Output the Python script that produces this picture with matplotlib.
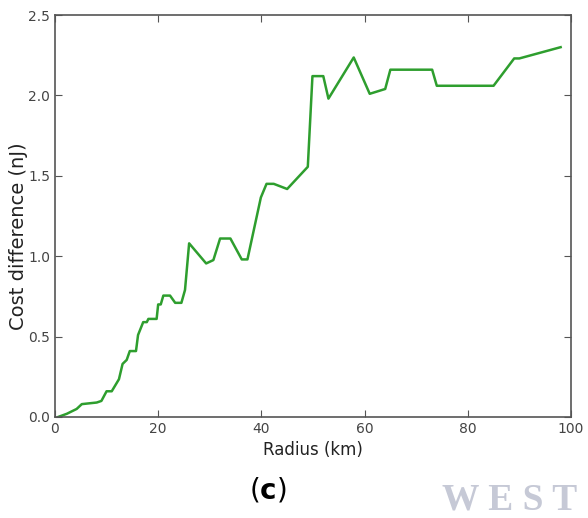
import matplotlib
matplotlib.use('Agg')
import matplotlib.pyplot as plt

# values
radius = [0.6, 2.3, 4.2, 5.2, 8.1, 9.0, 10.0, 11.0, 12.4, 13.1, 13.9, 14.5, 15.7,
          16.1, 17.1, 17.8, 18.1, 19.7, 20.0, 20.5, 21.0, 22.3, 23.3, 24.5, 25.2,
          26.0, 29.3, 30.7, 32.0, 34.0, 36.2, 37.3, 39.9, 41.0, 42.4, 45.0, 49.0,
          49.9, 52.0, 53.0, 57.9, 61.0, 64.0, 65.0, 73.1, 74.0, 85.0, 89.0, 90.0, 98.0]
cost = [0.0, 0.02, 0.05, 0.08, 0.09, 0.10, 0.16, 0.16, 0.235, 0.33, 0.355, 0.41, 0.41,
        0.51, 0.59, 0.59, 0.61, 0.61, 0.70, 0.70, 0.755, 0.755, 0.71, 0.71, 0.79,
        1.08, 0.955, 0.976, 1.11, 1.11, 0.98, 0.98, 1.365, 1.45, 1.45, 1.418, 1.556,
        2.12, 2.12, 1.98, 2.236, 2.01, 2.04, 2.16, 2.16, 2.06, 2.06, 2.23, 2.23, 2.30]

xticks = [0, 20, 40, 60, 80, 100]
yticks = [0.0, 0.5, 1.0, 1.5, 2.0, 2.5]

fig = plt.figure(figsize=(5.88, 5.18), dpi=100)
ax = fig.add_axes([0.0935, 0.195, 0.8775, 0.776])

ax.plot(radius, cost, color='#2e9e2e', linewidth=1.8)

ax.set_xlim(0, 100)
ax.set_ylim(0, 2.5)
ax.set_xticks(xticks)
ax.set_yticks(yticks)
ax.set_yticklabels(['%.1f' % v for v in yticks])
ax.tick_params(direction='in', top=True, right=True, length=5, width=0.8,
               colors='#555555', labelsize=10, labelcolor='#444444')
for s in ax.spines.values():
    s.set_color('#555555')
    s.set_linewidth(1.2)

ax.set_xlabel('Radius (km)', fontsize=12, color='#222222', labelpad=4)
ax.set_ylabel('Cost difference (nJ)', fontsize=14, color='#222222')
ax.yaxis.set_label_coords(-0.052, 0.449)

fig.text(0.455, 0.055, r'($\mathbf{c}$)', fontsize=20, ha='center', va='center')
fig.text(0.752, 0.035, 'W E S T', fontsize=27, family='Liberation Serif',
         color='#c6c9d6', ha='left', va='center', fontweight='bold')

fig.savefig('out.png', dpi=100)
